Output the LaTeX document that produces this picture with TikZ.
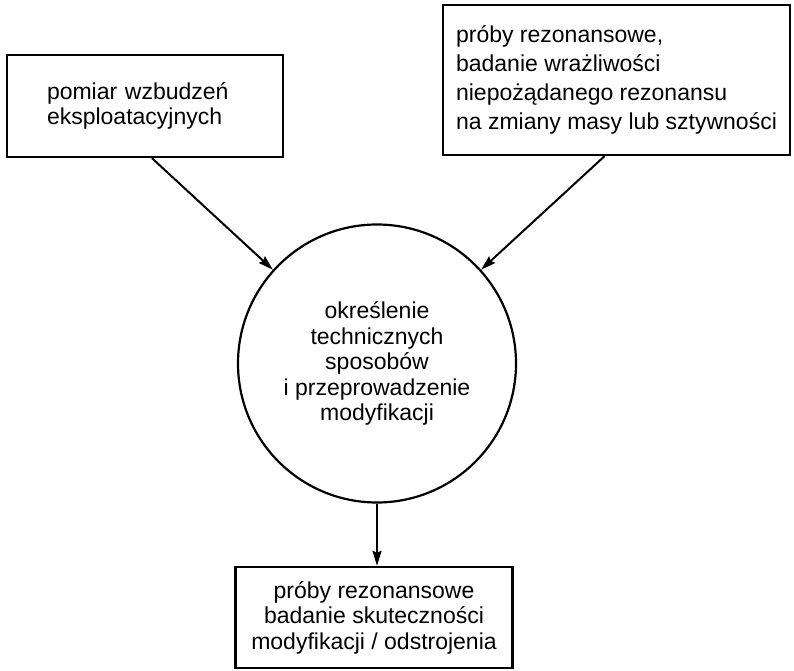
\documentclass[tikz,border=0pt]{standalone}
\usepackage{fontspec}
\setmainfont{Liberation Sans}
\usepackage{tikz}
\usetikzlibrary{arrows.meta}
\tikzset{
  % rectangle = measurement / test step
  stepbox/.style={draw=black, rectangle, line width=2.4pt, align=left,
                  inner ysep=0pt, font=\fontsize{23}{25.5}\selectfont},
  % circle = modification step
  modcircle/.style={draw=black, circle, line width=2.2pt, align=center,
                    inner sep=0pt, minimum size=#1,
                    font=\fontsize{23}{25.5}\selectfont},
  % arrow between steps
  flow/.style={-{Stealth[length=15pt,width=9pt,inset=2pt]}, line width=2pt},
}
\begin{document}
\begin{tikzpicture}[x=1pt,y=1pt]
  \useasboundingbox (0,0) rectangle (794,670);
  \node[stepbox, minimum width=276pt, minimum height=102pt,
        text width=196pt, inner xsep=40pt] (pomiar) at (145,564)
    {pomiar wzbudzeń\\eksploatacyjnych};
  \node[stepbox, minimum width=347pt, minimum height=150pt,
        font=\fontsize{23}{29}\selectfont] (proby) at (616.5,590)
    {próby rezonansowe,\\badanie wrażliwości\\niepożądanego rezonansu\\na zmiany masy lub sztywności};
  \node[modcircle=278pt] (modyf) at (377,306.5)
    {określenie\\technicznych\\sposobów\\i przeprowadzenie\\modyfikacji};
  \node[stepbox, align=center, minimum width=277pt, minimum height=101pt]
    (badanie) at (374,52.5)
    {próby rezonansowe\\badanie skuteczności\\modyfikacji / odstrojenia};
  \draw[flow] ([xshift=7pt]pomiar.south) -- (modyf.138);
  \draw[flow] ([xshift=-12pt]proby.south) -- (modyf.42);
  \draw[flow] (modyf.south) -- (modyf.south |- badanie.north);
\end{tikzpicture}
\end{document}
